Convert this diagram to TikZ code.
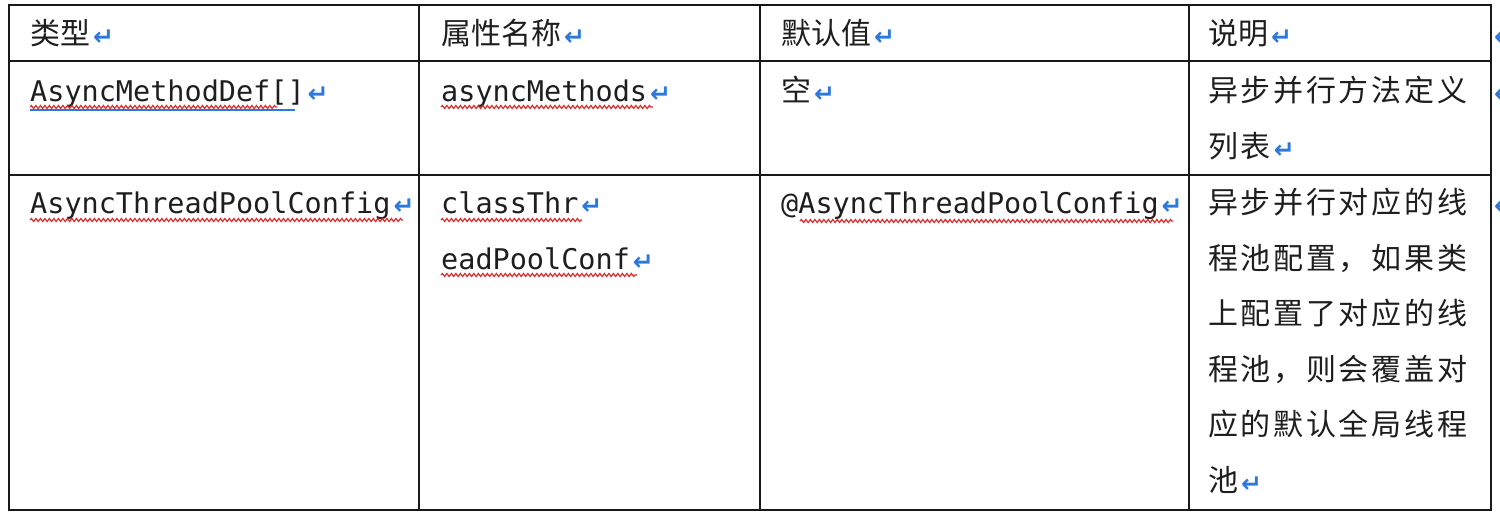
\documentclass[tikz,border=0pt]{standalone}
\usepackage{fontspec}
\setmonofont{DejaVu Sans Mono}
\newfontfamily\cjk{Noto Sans CJK SC}
\newfontfamily\cjkwide[LetterSpace=9]{Noto Sans CJK SC}
\newfontfamily\retfont{DejaVu Sans Bold}
\usepackage{tikz}
\usetikzlibrary{positioning,decorations.pathmorphing}
\definecolor{retblue}{RGB}{45,120,220}
\definecolor{spellred}{RGB}{225,40,40}
\definecolor{inkgray}{RGB}{30,30,30}
\newcommand*{\ret}{{\retfont\fontsize{25}{25}\selectfont\color{retblue}\hspace{3pt}\raisebox{-1pt}{↵}}}
\tikzstyle{head} = [anchor=base west, inner sep=0, text=inkgray, font=\cjk\fontsize{30}{32}\selectfont]
\tikzstyle{code} = [anchor=base west, inner sep=0, text=inkgray, font=\ttfamily\fontsize{28.5}{30}\selectfont]
\tikzstyle{desc} = [anchor=base west, inner sep=0, text=inkgray, font=\cjkwide\fontsize{30}{32}\selectfont]
\tikzstyle{rule} = [line width=2pt, black!90]
\tikzstyle{spell} = [spellred, line width=1.2pt, decorate, decoration={snake, amplitude=1.5pt, segment length=4.5pt}]

\begin{document}
\begin{tikzpicture}[x=1pt, y=-1pt]
	  \useasboundingbox (0,0) rectangle (1500,518);
	
	  % grid
	  \draw [rule] (9,5) rectangle (1491,510);
	  \draw [rule] (419,5) -- (419,510);
	  \draw [rule] (760,5) -- (760,510);
	  \draw [rule] (1189,5) -- (1189,510);
	  \draw [rule] (9,61) -- (1491,61);
	  \draw [rule] (9,175) -- (1491,175);
	
	  % header
	  \node [head] at (30,45) (type) {类型\ret};
	  \node [head] at (441,45) (attr) {属性名称\ret};
	  \node [head] at (781,45) (dflt) {默认值\ret};
	  \node [head] at (1208,45) (note) {说明\ret};
	
	  % row 1
	  \node [code] at (30,102) (typeA) {AsyncMethodDef[]\ret};
	  \node [code] at (441,102) (attrA) {asyncMethods\ret};
	  \node [head] at (781,102) (dfltA) {空\ret};
	  \node [desc] at (1208,102) (noteA) {异步并行方法定义};
	  \node [desc, below=55.5pt of noteA.base west, anchor=base west] (noteAb) {列表\ret};
	
	  % row 2
	  \node [code] at (30,214) (typeB) {AsyncThreadPoolConfig\ret};
	  \node [code] at (441,214) (attrB) {classThr\ret};
	  \node [code, below=55.5pt of attrB.base west, anchor=base west] (attrBb) {eadPoolConf\ret};
	  \node [code] at (781,214) (dfltB) {@AsyncThreadPoolConfig\ret};
	  \node [desc] at (1208,214) (noteB) {异步并行对应的线};
	  \node [desc, below=55.5pt of noteB.base west, anchor=base west] (noteBb) {程池配置，如果类};
	  \node [desc, below=55.5pt of noteBb.base west, anchor=base west] (noteBc) {上配置了对应的线};
	  \node [desc, below=55.5pt of noteBc.base west, anchor=base west] (noteBd) {程池，则会覆盖对};
	  \node [desc, below=55.5pt of noteBd.base west, anchor=base west] (noteBe) {应的默认全局线程};
	  \node [desc, below=55.5pt of noteBe.base west, anchor=base west] (noteBf) {池\ret};
	
	  % marks past the right edge
	  \node [head] at (1491,45) (endH) {\ret};
	  \node [head] at (1491,102) (endA) {\ret};
	  \node [head] at (1491,214) (endB) {\ret};
	
	  % spell check lines
	  \draw [spell] (30,107) -- (277,107);
	  \draw [retblue, line width=1.2pt] (30,110) -- (295,110);
	  \draw [spell] (441,107) -- (653,107);
	  \draw [spell] (30,220) -- (403,220);
	  \draw [spell] (441,220) -- (582,220);
	  \draw [spell] (441,275) -- (637,275);
	  \draw [spell] (800,221) -- (1173,221);
	\end{tikzpicture}
\end{document}
